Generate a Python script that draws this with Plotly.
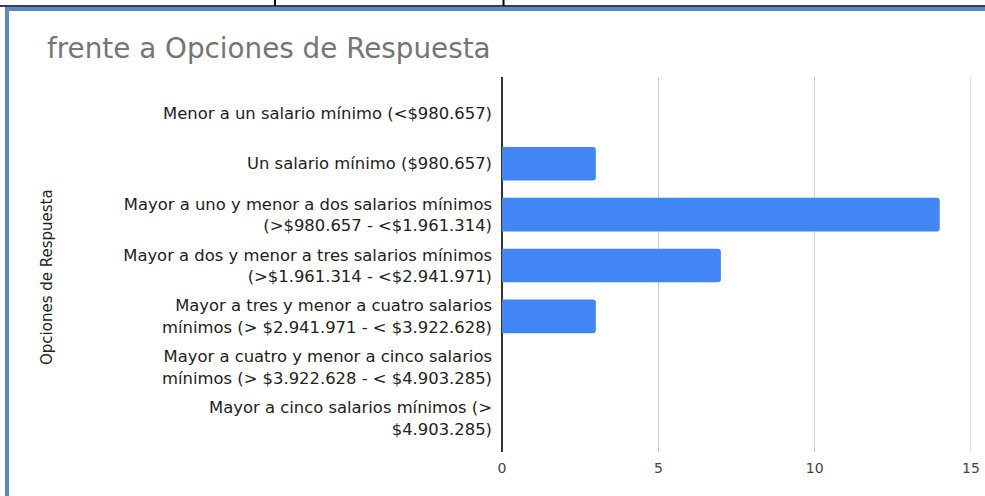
import plotly.graph_objects as go

# Response options (each inner list = label lines) and counts
opciones = [
    ["Menor a un salario mínimo (<$980.657)"],
    ["Un salario mínimo ($980.657)"],
    ["Mayor a uno y menor a dos salarios mínimos", "(>$980.657 - <$1.961.314)"],
    ["Mayor a dos y menor a tres salarios mínimos", "(>$1.961.314 - <$2.941.971)"],
    ["Mayor a tres y menor a cuatro salarios", "mínimos (> $2.941.971 - < $3.922.628)"],
    ["Mayor a cuatro y menor a cinco salarios", "mínimos (> $3.922.628 - < $4.903.285)"],
    ["Mayor a cinco salarios mínimos (>", "$4.903.285)"],
]
conteos = [0, 3, 14, 7, 3, 0, 0]
x_ticks = [0, 5, 10, 15]

titulo = "frente a Opciones de Respuesta"
titulo_eje_y = "Opciones de Respuesta"

categorias = [" ".join(lineas) for lineas in opciones]
etiquetas = ["<br>".join(lineas) for lineas in opciones]

W, H = 985, 496
L, R, T, B = 502, 14, 77, 44
pw, ph = W - L - R, H - T - B

def px_x(p):
    return (p - L) / pw

def px_y(p):
    return (H - B - p) / ph

FONT = "DejaVu Sans"

fig = go.Figure()
fig.add_trace(go.Bar(
    x=conteos,
    y=categorias,
    orientation="h",
    marker=dict(color="#4285f4", line=dict(width=0)),
    hoverinfo="x+y",
))

annotations = [
    dict(
        x=px_x(47), xref="paper", xanchor="center",
        y=px_y(277), yref="paper", yanchor="middle",
        text=titulo_eje_y, textangle=-90, showarrow=False,
        font=dict(family=FONT, size=15, color="#222222"),
    ),
    dict(
        x=px_x(45), xref="paper", xanchor="left",
        y=px_y(48), yref="paper", yanchor="middle",
        text=titulo, showarrow=False,
        font=dict(family=FONT, size=27.8, color="#757575"),
    ),
]

shapes = [
    # gridline at the last tick, which sits on the plot edge
    dict(type="line", xref="x", yref="paper", layer="below",
         x0=x_ticks[-1], x1=x_ticks[-1], y0=0, y1=1,
         line=dict(color="#cccccc", width=1)),
    # outer frame (blue), open to the right and bottom
    dict(type="line", xref="paper", yref="paper",
         x0=px_x(7), x1=px_x(7), y0=px_y(9), y1=px_y(H + 5),
         line=dict(color="#5b88c6", width=4)),
    dict(type="line", xref="paper", yref="paper",
         x0=px_x(5), x1=px_x(W + 5), y0=px_y(9), y1=px_y(9),
         line=dict(color="#5b88c6", width=4)),
    # table rule above the frame
    dict(type="line", xref="paper", yref="paper",
         x0=px_x(0), x1=px_x(W), y0=px_y(6), y1=px_y(6),
         line=dict(color="#000000", width=1.5)),
    dict(type="line", xref="paper", yref="paper",
         x0=px_x(275), x1=px_x(275), y0=px_y(0), y1=px_y(6),
         line=dict(color="#000000", width=2)),
    dict(type="line", xref="paper", yref="paper",
         x0=px_x(503.5), x1=px_x(503.5), y0=px_y(0), y1=px_y(6),
         line=dict(color="#000000", width=2)),
]

fig.update_layout(
    width=W, height=H,
    margin=dict(l=L, r=R, t=T, b=B, pad=0, autoexpand=False),
    paper_bgcolor="#ffffff",
    plot_bgcolor="#ffffff",
    showlegend=False,
    bargap=0.34,
    barcornerradius=3,
    annotations=annotations,
    shapes=shapes,
    xaxis=dict(
        range=[0, 15],
        tickvals=x_ticks,
        ticktext=[str(v) for v in x_ticks],
        showgrid=True, gridcolor="#cccccc", gridwidth=1,
        zeroline=True, zerolinecolor="#333333", zerolinewidth=1.5,
        showline=False,
        ticks="", ticklabelstandoff=6,
        ticklabeloverflow="allow",
        tickfont=dict(family=FONT, size=14, color="#444444"),
        automargin=False,
        fixedrange=True,
    ),
    yaxis=dict(
        categoryorder="array",
        categoryarray=categorias,
        tickvals=categorias,
        ticktext=etiquetas,
        range=[6.664, -0.703],
        showgrid=False, zeroline=False, showline=False,
        ticks="", ticklabelstandoff=9,
        tickfont=dict(family=FONT, size=16.4, color="#222222"),
        automargin=False,
        fixedrange=True,
    ),
)

fig.write_html("out.html", config={"displayModeBar": False})
